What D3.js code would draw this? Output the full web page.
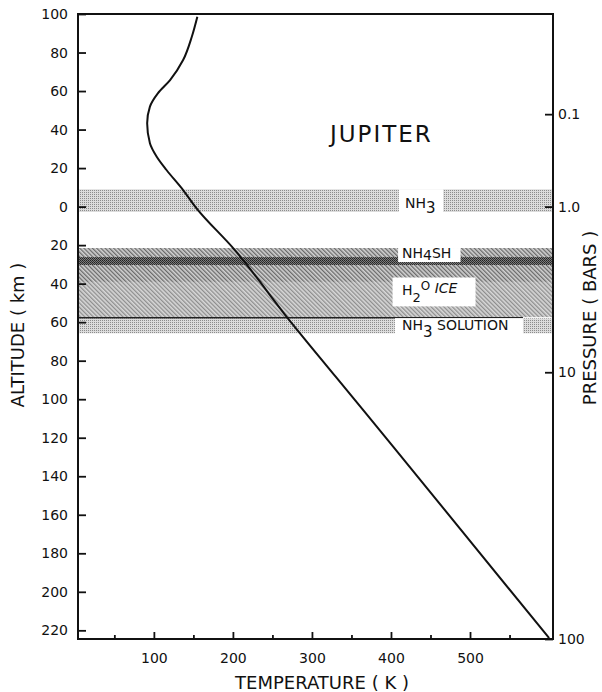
<!DOCTYPE html>
<html>
<head>
<meta charset="utf-8">
<script src="https://cdn.jsdelivr.net/npm/d3@7"></script>
<style>
  body { margin: 0; background: #fff; }
  text { font-family: "DejaVu Sans", sans-serif; fill: #111; }
</style>
</head>
<body>
<script>
// temperature profile: altitude (km) vs temperature (K)
let profileAlt  = [98.6, 88.2, 76.1, 65.7, 58.8, 51.9, 43.3, 32.9, 25.9, 19, 8.6, -0.9, -21.7, -57.2, -88.3, -124.7, -224];
let profileTemp = [155, 148, 137, 120.5, 105, 95, 91.5, 95, 103.6, 116, 137, 154, 200.6, 268, 330, 403, 600];

// cloud layers (altitude top / bottom in km)
let layerNames  = ['NH3', 'NH4SH haze', 'NH4SH', 'H2O ice', 'H2O ice lower', 'NH3 solution'];
let layerTop    = [9, -21.5, -26.2, -30.3, -39, -58];
let layerBottom = [-2.8, -56.8, -30.3, -39, -57.4, -65.8];
let layerFill   = ['stipple', 'hatchDark', 'dark', 'hatchDark', 'hatchLight', 'stipple'];

let altTicks  = [100, 80, 60, 40, 20, 0, -20, -40, -60, -80, -100, -120, -140, -160, -180, -200, -220];
let tempTicks = [100, 200, 300, 400, 500];
let tempMinor = [50, 150, 250, 350, 450, 550];
let pressureLabels = ['0.1', '1.0', '10', '100'];
let pressureAlt    = [48, 0, -86, -224.5];

let margin = { top: 14, left: 78, bottom: 53, right: 49 };
let width = 602 - margin.left - margin.right;
let height = 692 - margin.top - margin.bottom;

let svg = d3.select('body').append('svg').attr('width', 602).attr('height', 692);

let x = d3.scaleLinear().domain([4, 605]).range([0, width]);
let y = d3.scaleLinear().domain([100, -224.5]).range([0, height]);

// fill patterns to mimic the halftone screens
let defs = svg.append('defs');

let stip = defs.append('pattern').attr('id', 'stipple').attr('patternUnits', 'userSpaceOnUse').attr('width', 2).attr('height', 2);
stip.append('rect').attr('width', 2).attr('height', 2).attr('fill', '#dcdcdc');
stip.append('rect').attr('width', 1).attr('height', 1).attr('fill', '#8c8c8c');

let dark = defs.append('pattern').attr('id', 'dark').attr('patternUnits', 'userSpaceOnUse').attr('width', 2).attr('height', 2);
dark.append('rect').attr('width', 2).attr('height', 2).attr('fill', '#7a7a7a');
dark.append('rect').attr('width', 1).attr('height', 1).attr('fill', '#222');
dark.append('rect').attr('x', 1).attr('y', 1).attr('width', 1).attr('height', 1).attr('fill', '#333');

function hatch(id, bg, fg) {
  let p = defs.append('pattern').attr('id', id).attr('patternUnits', 'userSpaceOnUse')
    .attr('width', 3).attr('height', 3).attr('patternTransform', 'rotate(-45)');
  p.append('rect').attr('width', 3).attr('height', 3).attr('fill', bg);
  p.append('rect').attr('width', 1.3).attr('height', 3).attr('fill', fg);
}
hatch('hatchDark', '#d2d2d2', '#6a6a6a');
hatch('hatchLight', '#d8d8d8', '#8e8e8e');

let g = svg.append('g').attr('transform', 'translate(' + margin.left + ',' + margin.top + ')');

// cloud bands
g.selectAll('.layer').data(layerNames).enter().append('rect').attr('class', 'layer')
  .attr('x', 0).attr('width', width)
  .attr('y', function(d, i) { return y(layerTop[i]); })
  .attr('height', function(d, i) { return y(layerBottom[i]) - y(layerTop[i]); })
  .attr('fill', function(d, i) { return 'url(#' + layerFill[i] + ')'; });

// thin dark line at top of the ammonia solution layer
g.append('line').attr('x1', 0).attr('x2', x(567)).attr('y1', y(-57.7)).attr('y2', y(-57.7))
  .attr('stroke', '#222').attr('stroke-width', 1.6);

// white boxes behind the layer labels
function box(t0, t1, a0, a1) {
  g.append('rect').attr('x', x(t0)).attr('width', x(t1) - x(t0))
    .attr('y', y(a0)).attr('height', y(a1) - y(a0)).attr('fill', '#fff');
}
box(410, 466, layerTop[0], layerBottom[0]);
box(409, 488, -21.5, -28.8);
box(402, 507, -36.8, -51.8);
box(405, 567, -57.9, -66.2);

// temperature curve
let line = d3.line().x(function(d, i) { return x(profileTemp[i]); }).y(function(d) { return y(d); }).curve(d3.curveMonotoneY);
g.append('path').datum(profileAlt).attr('d', line).attr('fill', 'none').attr('stroke', '#111').attr('stroke-width', 2);

// frame
g.append('rect').attr('width', width).attr('height', height).attr('fill', 'none').attr('stroke', '#111').attr('stroke-width', 2);

// axes
let yAxis = d3.axisLeft(y).tickValues(altTicks).tickSize(-8).tickPadding(10)
  .tickFormat(function(d) { return Math.abs(d); });
g.append('g').call(yAxis);

let xAxis = d3.axisBottom(x).tickValues(tempTicks).tickSize(-7).tickPadding(14);
g.append('g').attr('transform', 'translate(0,' + height + ')').call(xAxis);
g.append('g').attr('transform', 'translate(0,' + height + ')')
  .call(d3.axisBottom(x).tickValues(tempMinor).tickSize(-4).tickFormat(''));

let pAxis = d3.axisRight(y).tickValues(pressureAlt).tickSize(-8).tickPadding(5)
  .tickFormat(function(d, i) { return pressureLabels[i]; });
g.append('g').attr('transform', 'translate(' + width + ',0)').call(pAxis);

g.selectAll('.domain').remove();
g.selectAll('.tick line').attr('stroke', '#111').attr('stroke-width', 1.8);
g.selectAll('.tick text').style('font-size', '14px').attr('fill', '#111');

// axis titles
svg.append('text').attr('transform', 'translate(24,335) rotate(-90)').attr('text-anchor', 'middle')
  .style('font-size', '18px').text('ALTITUDE  ( km )');
svg.append('text').attr('transform', 'translate(596,318) rotate(-90)').attr('text-anchor', 'middle')
  .style('font-size', '18px').text('PRESSURE  ( BARS )');
svg.append('text').attr('x', 322).attr('y', 689).attr('text-anchor', 'middle')
  .style('font-size', '18px').text('TEMPERATURE  ( K )');

svg.append('text').attr('x', 330).attr('y', 142).style('font-size', '23px').style('letter-spacing', '2px').text('JUPITER');

// layer labels
function label(px, py, parts) {
  let t = svg.append('text').attr('x', px).attr('y', py).style('font-size', '14px');
  parts.forEach(function(p) {
    t.append('tspan').attr('dy', p.dy || 0).style('font-size', p.size || '14px')
      .style('font-style', p.italic ? 'italic' : null).text(p.s);
  });
}
label(405, 208, [{ s: 'NH' }, { s: '3', dy: 5, size: '15px' }]);
label(402, 258, [{ s: 'NH' }, { s: '4', dy: 2 }, { s: 'SH', dy: -2 }]);
label(402, 295, [{ s: 'H' }, { s: '2', dy: 7, size: '13px' }, { s: 'O', dy: -12, size: '12px' }, { s: '  ICE', dy: 3, italic: true }]);
label(402, 330, [{ s: 'NH' }, { s: '3', dy: 7, size: '15px' }, { s: '  SOLUTION', dy: -7 }]);
</script>
</body>
</html>
